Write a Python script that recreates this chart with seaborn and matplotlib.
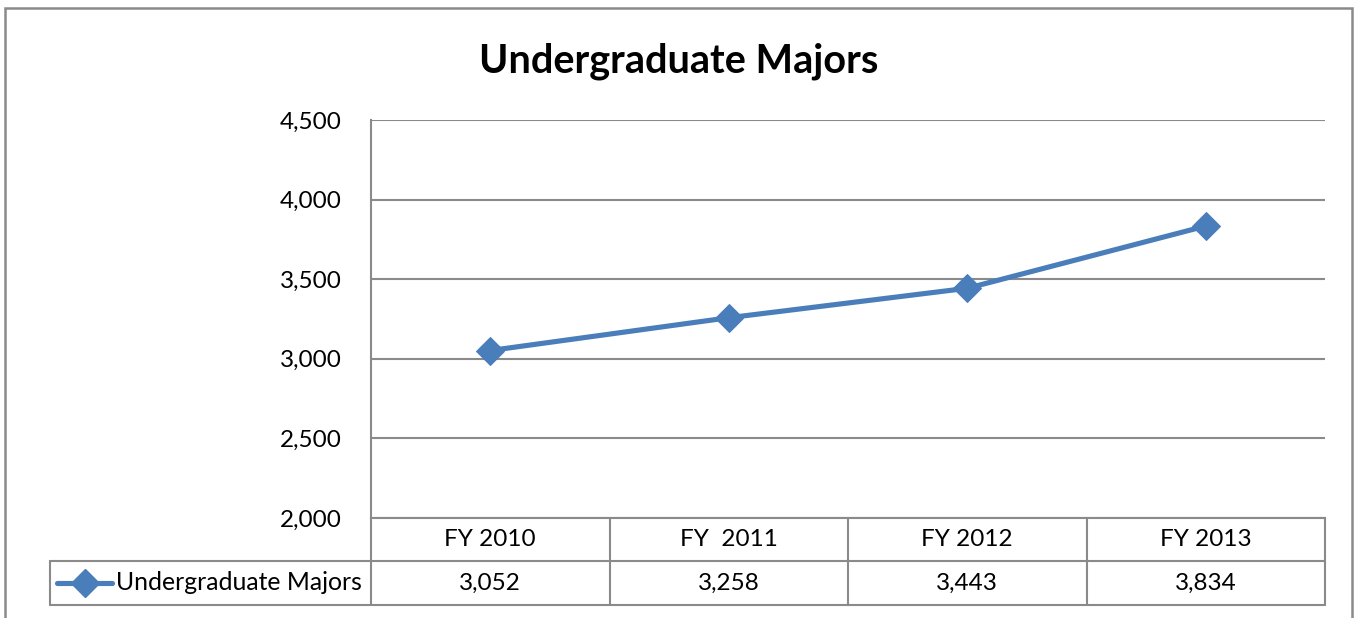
import matplotlib
matplotlib.use('Agg')
import matplotlib.pyplot as plt
import seaborn as sns
import pandas as pd
from matplotlib.lines import Line2D
from matplotlib.patches import Rectangle
from matplotlib.ticker import FuncFormatter

# chart data
years = ['FY 2010', 'FY  2011', 'FY 2012', 'FY 2013']
majors = [3052, 3258, 3443, 3834]
series_name = 'Undergraduate Majors'
y_ticks = [2000, 2500, 3000, 3500, 4000, 4500]

df = pd.DataFrame({'year': years, 'majors': majors})

sns.set_style('white')
plt.rcParams['font.family'] = ['Lato', 'DejaVu Sans']
plt.rcParams['text.color'] = 'black'

line_color = '#4A7EBB'
grid_color = '#8A8A8A'

W, H = 1357, 618
fig = plt.figure(figsize=(W / 100, H / 100), dpi=100)
ax = fig.add_axes([371 / W, 100 / H, 954 / W, 398 / H])

sns.lineplot(data=df, x='year', y='majors', marker='D', markersize=14,
             linewidth=3.7, color=line_color, markeredgecolor=line_color,
             sort=False, ax=ax)

ax.set_xlim(-0.5, len(years) - 0.5)
ax.set_ylim(y_ticks[0], y_ticks[-1])
ax.set_yticks(y_ticks)
ax.yaxis.set_major_formatter(FuncFormatter(lambda v, p: f'{int(v):,}'))
ax.set_xticks([])
ax.set_xlabel('')
ax.set_ylabel('')
ax.yaxis.grid(True, color=grid_color, linewidth=1.5)
ax.set_axisbelow(True)
ax.tick_params(axis='y', length=0, pad=21, labelsize=17.5, labelcolor='black')
for side in ['top', 'right']:
    ax.spines[side].set_visible(False)
for side in ['left', 'bottom']:
    ax.spines[side].set_color(grid_color)
    ax.spines[side].set_linewidth(1.5)

# data table below the plot
xt = ax.get_xaxis_transform()
row1 = -43 / 398
row2 = -87 / 398
leg_left = (50 - 371) / 954
tab_kw = dict(color=grid_color, linewidth=1.5, clip_on=False)
ax.plot([leg_left, 1], [row1, row1], transform=ax.transAxes, **tab_kw)
ax.plot([leg_left, 1], [row2, row2], transform=ax.transAxes, **tab_kw)
ax.plot([leg_left, leg_left], [row1, row2], transform=ax.transAxes, **tab_kw)
for i in range(len(years) + 1):
    ax.plot([i - 0.5, i - 0.5], [0, row2], transform=xt, **tab_kw)
for i, (yr, val) in enumerate(zip(years, majors)):
    ax.text(i, row1 / 2, yr, transform=xt, ha='center', va='center', fontsize=17.5)
    ax.text(i, (row1 + row2) / 2, f'{val:,}', transform=xt, ha='center',
            va='center', fontsize=17.5)

# legend key inside the row header cell
ymid = (row1 + row2) / 2
ax.add_line(Line2D([(57 - 371) / 954, (112 - 371) / 954], [ymid, ymid],
                   transform=ax.transAxes, color=line_color, linewidth=3.7,
                   clip_on=False))
ax.add_line(Line2D([(85 - 371) / 954], [ymid], transform=ax.transAxes,
                   marker='D', markersize=14, color=line_color, clip_on=False))
ax.text((116 - 371) / 954, ymid, series_name, transform=ax.transAxes,
        ha='left', va='center', fontsize=17.8)

fig.text(0.5, 1 - 61 / H, 'Undergraduate Majors', ha='center', va='center',
         fontsize=28.5, fontweight='bold')

# outer chart border
fig.add_artist(Rectangle((5 / W, -0.2), (1352 - 5) / W, 1.2 - 8 / H,
                         transform=fig.transFigure, fill=False,
                         edgecolor=grid_color, linewidth=1.8, clip_on=False))

fig.savefig('out.png', dpi=100)
